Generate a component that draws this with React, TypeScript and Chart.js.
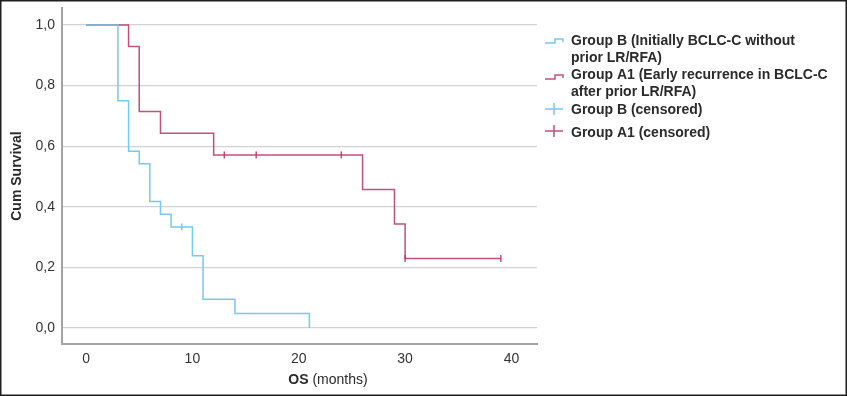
import React, { useEffect, useRef } from "react";
import { Chart, registerables } from "chart.js";
Chart.register(...registerables);

// Kaplan-Meier steps (time in months, cumulative survival)
const groupBTimes = [0, 3, 4, 5, 6, 7, 8, 9, 10, 11, 14, 21];
const groupBSurv = [1.0, 0.75, 0.583, 0.542, 0.417, 0.375, 0.333, 0.333, 0.238, 0.095, 0.048, 0.0];
const groupA1Times = [0, 4, 5, 7, 12, 13, 16, 24, 26, 29, 30, 39];
const groupA1Surv = [1.0, 0.929, 0.714, 0.643, 0.571, 0.571, 0.571, 0.571, 0.457, 0.343, 0.229, 0.229];
const groupBCensTimes = [9];
const groupBCensSurv = [0.333];
const groupA1CensTimes = [13, 16, 24, 30, 39];
const groupA1CensSurv = [0.571, 0.571, 0.571, 0.229, 0.229];

const xTicks = [0, 10, 20, 30, 40];
const yTicks = [0, 0.2, 0.4, 0.6, 0.8, 1.0];

const legendB = ["Group B (Initially BCLC-C without", "prior LR/RFA)"];
const legendA1 = ["Group A1 (Early recurrence in BCLC-C", "after prior LR/RFA)"];
const legendBCens = "Group B (censored)";
const legendA1Cens = "Group A1 (censored)";
const xTitleBold = "OS";
const xTitleRest = " (months)";
const yTitle = "Cum Survival";

const BLUE = "rgba(110,198,238,0.95)";
const RED = "rgba(184,58,100,0.88)";
const TEXT = "#2a2a2a";
const FONT = "'Liberation Sans', Arial, sans-serif";

const toPts = (xs: number[], ys: number[]) => xs.map((x, i) => ({ x, y: ys[i] }));

const decorPlugin = {
  id: "decor",
  afterDraw(chart: any) {
    const ctx = chart.ctx as CanvasRenderingContext2D;
    const ca = chart.chartArea;
    ctx.save();
    // outer frame
    ctx.strokeStyle = "#1e1e1e";
    ctx.lineWidth = 1.5;
    ctx.strokeRect(0.75, 0.75, chart.width - 1.5, chart.height - 1.5);

    // y title
    ctx.fillStyle = TEXT;
    ctx.font = `bold 14px ${FONT}`;
    ctx.textAlign = "center";
    ctx.textBaseline = "middle";
    ctx.save();
    ctx.translate(17, (ca.top + ca.bottom) / 2);
    ctx.rotate(-Math.PI / 2);
    ctx.fillText(yTitle, 0, 0);
    ctx.restore();

    // x title (mixed weight)
    ctx.textAlign = "left";
    ctx.font = `bold 14px ${FONT}`;
    const wb = ctx.measureText(xTitleBold).width;
    ctx.font = `14px ${FONT}`;
    const wr = ctx.measureText(xTitleRest).width;
    const cx = 328;
    const x0 = cx - (wb + wr) / 2;
    ctx.font = `bold 14px ${FONT}`;
    ctx.fillText(xTitleBold, x0, 380);
    ctx.font = `14px ${FONT}`;
    ctx.fillText(xTitleRest, x0 + wb, 380);

    // legend
    const lx = 571;
    const ix0 = 545;
    ctx.font = `bold 14px ${FONT}`;
    ctx.textBaseline = "middle";
    ctx.fillStyle = TEXT;
    const stepIcon = (color: string, yLow: number) => {
      ctx.strokeStyle = color;
      ctx.lineWidth = 1.5;
      ctx.beginPath();
      ctx.moveTo(ix0, yLow);
      ctx.lineTo(ix0 + 10, yLow);
      ctx.lineTo(ix0 + 10, yLow - 4);
      ctx.lineTo(ix0 + 18, yLow - 4);
      ctx.lineTo(ix0 + 18, yLow - 1);
      ctx.stroke();
    };
    const crossIcon = (color: string, y: number) => {
      ctx.strokeStyle = color;
      ctx.lineWidth = 1.5;
      ctx.beginPath();
      ctx.moveTo(ix0, y);
      ctx.lineTo(ix0 + 18, y);
      ctx.moveTo(ix0 + 9, y - 6);
      ctx.lineTo(ix0 + 9, y + 6);
      ctx.stroke();
    };
    stepIcon(BLUE, 43);
    ctx.fillText(legendB[0], lx, 41);
    ctx.fillText(legendB[1], lx, 58);
    stepIcon(RED, 79);
    ctx.fillText(legendA1[0], lx, 75);
    ctx.fillText(legendA1[1], lx, 92);
    crossIcon(BLUE, 109);
    ctx.fillText(legendBCens, lx, 110);
    crossIcon(RED, 131);
    ctx.fillText(legendA1Cens, lx, 133);
    ctx.restore();
  },
};

export default function App() {
  const ref = useRef<HTMLCanvasElement | null>(null);
  useEffect(() => {
    document.body.style.margin = "0";
    const canvas = ref.current!;
    const chart = new Chart(canvas, {
      type: "line",
      data: {
        datasets: [
          {
            label: "Group B",
            data: toPts(groupBTimes, groupBSurv),
            borderColor: BLUE,
            borderWidth: 1.5,
            stepped: true,
            pointRadius: 0,
            fill: false,
          },
          {
            label: "Group A1",
            data: toPts(groupA1Times, groupA1Surv),
            borderColor: RED,
            borderWidth: 1.5,
            stepped: true,
            pointRadius: 0,
            fill: false,
          },
          {
            label: "Group B (censored)",
            data: toPts(groupBCensTimes, groupBCensSurv),
            showLine: false,
            pointStyle: "line",
            rotation: 90,
            pointRadius: 3.5,
            borderColor: BLUE,
            pointBorderWidth: 1.5,
          },
          {
            label: "Group A1 (censored)",
            data: toPts(groupA1CensTimes, groupA1CensSurv),
            showLine: false,
            pointStyle: "line",
            rotation: 90,
            pointRadius: 3.5,
            borderColor: RED,
            pointBorderWidth: 1.5,
          },
        ],
      },
      options: {
        responsive: false,
        animation: false,
        devicePixelRatio: 1,
        layout: { padding: { left: 0, top: 8, right: 310, bottom: 0 } },
        plugins: { legend: { display: false }, tooltip: { enabled: false } },
        scales: {
          x: {
            type: "linear",
            min: -2.26,
            max: 42.4,
            afterBuildTicks: (s: any) => {
              s.ticks = xTicks.map((v) => ({ value: v }));
            },
            afterFit: (s: any) => {
              s.height = 52;
              s.paddingLeft = 0;
              s.paddingRight = 0;
            },
            grid: { color: "rgba(0,0,0,0)", drawTicks: false },
            border: { display: true, color: "#a3a3a3", width: 2 },
            ticks: {
              padding: 7,
              color: "#333",
              font: { family: FONT, size: 14 },
              callback: (v: any) => String(v),
            },
          },
          y: {
            type: "linear",
            min: -0.053,
            max: 1.056,
            afterBuildTicks: (s: any) => {
              s.ticks = yTicks.map((v) => ({ value: v }));
            },
            afterFit: (s: any) => {
              s.width = 62;
              s.paddingTop = 0;
              s.paddingBottom = 0;
            },
            grid: { color: "#d2d2d2", lineWidth: 1.2, drawTicks: false },
            border: { display: true, color: "#a3a3a3", width: 2 },
            ticks: {
              padding: 7,
              color: "#333",
              font: { family: FONT, size: 14 },
              callback: (v: any) => Number(v).toFixed(1).replace(".", ","),
            },
          },
        },
      },
      plugins: [decorPlugin],
    });
    return () => chart.destroy();
  }, []);
  return (
    <canvas
      ref={ref}
      width={847}
      height={396}
      style={{ display: "block", width: 847, height: 396 }}
    />
  );
}
